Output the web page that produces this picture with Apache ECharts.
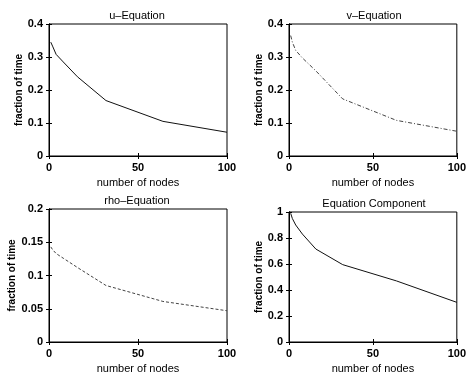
<!DOCTYPE html>
<html>
<head>
<meta charset="utf-8">
<script src="https://cdn.jsdelivr.net/npm/echarts@6/dist/echarts.min.js"></script>
<style>
  html, body { margin: 0; padding: 0; background: #fff; }
  #chart { width: 469px; height: 375px; }
</style>
</head>
<body>
<div id="chart"></div>
<script>
// values
const titles = ["u\u2013Equation", "v\u2013Equation", "rho\u2013Equation", "Equation Component"];
const nodes = [1, 2, 4, 8, 16, 32, 64, 100];
const uTime = [0.345, 0.333, 0.308, 0.285, 0.24, 0.168, 0.105, 0.072];
const vTime = [0.365, 0.345, 0.32, 0.297, 0.258, 0.173, 0.108, 0.075];
const rhoTime = [0.143, 0.139, 0.133, 0.126, 0.112, 0.085, 0.061, 0.047];
const compTime = [0.99, 0.95, 0.9, 0.83, 0.715, 0.595, 0.47, 0.305];
const yMax = [0.4, 0.4, 0.2, 1];
const yStep = [0.1, 0.1, 0.05, 0.2];

const chart = echarts.init(document.getElementById("chart"));

const boxes = [
  { left: 49, top: 24, width: 178, height: 132 },
  { left: 289, top: 24, width: 172, height: 132 },
  { left: 49, top: 209, width: 178, height: 138 },
  { left: 289, top: 212, width: 172, height: 134 }
];
const seriesData = [uTime, vTime, rhoTime, compTime];
const lineTypes = ["solid", [4, 2, 1, 2], [3, 2], "solid"];
const lineColors = ["#111", "#444", "#444", "#111"];

const font = "Liberation Sans, Arial, sans-serif";
const tick = { show: true, inside: true, length: 3, lineStyle: { color: "#000" } };

let grids = [], xAxes = [], yAxes = [], series = [], title = [];
boxes.forEach((b, i) => {
  grids.push(Object.assign({ show: true, borderColor: "#000", borderWidth: 1, backgroundColor: "#fff" }, b));
  title.push({
    text: titles[i],
    left: b.left + b.width / 2 - 6,
    top: b.top - 19,
    textAlign: "center",
    textStyle: { fontFamily: font, fontSize: 11, fontWeight: "normal", color: "#000" }
  });
  xAxes.push({
    type: "value", gridIndex: i, min: 0, max: 100, interval: 50,
    axisLine: { show: true, lineStyle: { color: "#000" } },
    axisTick: tick, splitLine: { show: false },
    axisLabel: { fontFamily: font, fontSize: 11, fontWeight: "bold", color: "#000", margin: 6 },
    name: "number of nodes", nameLocation: "middle", nameGap: 21,
    nameTextStyle: { fontFamily: font, fontSize: 11, color: "#000" }
  });
  xAxes.push({
    type: "value", gridIndex: i, position: "top", min: 0, max: 100, interval: 50,
    axisLine: { show: true, lineStyle: { color: "#000" } },
    axisTick: tick, axisLabel: { show: false }, splitLine: { show: false }
  });
  yAxes.push({
    type: "value", gridIndex: i, min: 0, max: yMax[i], interval: yStep[i],
    axisLine: { show: true, lineStyle: { color: "#000" } },
    axisTick: tick, splitLine: { show: false },
    axisLabel: { fontFamily: font, fontSize: 11, fontWeight: "bold", color: "#000", margin: 6 },
    name: "fraction of time", nameLocation: "middle", nameGap: i === 2 ? 28 : 21,
    nameTextStyle: { fontFamily: font, fontSize: 10, fontWeight: "bold", color: "#000" }
  });
  yAxes.push({
    type: "value", gridIndex: i, position: "right", min: 0, max: yMax[i], interval: yStep[i],
    axisLine: { show: true, lineStyle: { color: "#000" } },
    axisTick: tick, axisLabel: { show: false }, splitLine: { show: false }
  });
  series.push({
    type: "line", xAxisIndex: i * 2, yAxisIndex: i * 2,
    data: nodes.map((n, k) => [n, seriesData[i][k]]),
    showSymbol: false, silent: true,
    lineStyle: { color: lineColors[i], width: 1, type: lineTypes[i] }
  });
});

chart.setOption({
  animation: false,
  backgroundColor: "#fff",
  title: title,
  grid: grids,
  xAxis: xAxes,
  yAxis: yAxes,
  series: series
});
</script>
</body>
</html>
